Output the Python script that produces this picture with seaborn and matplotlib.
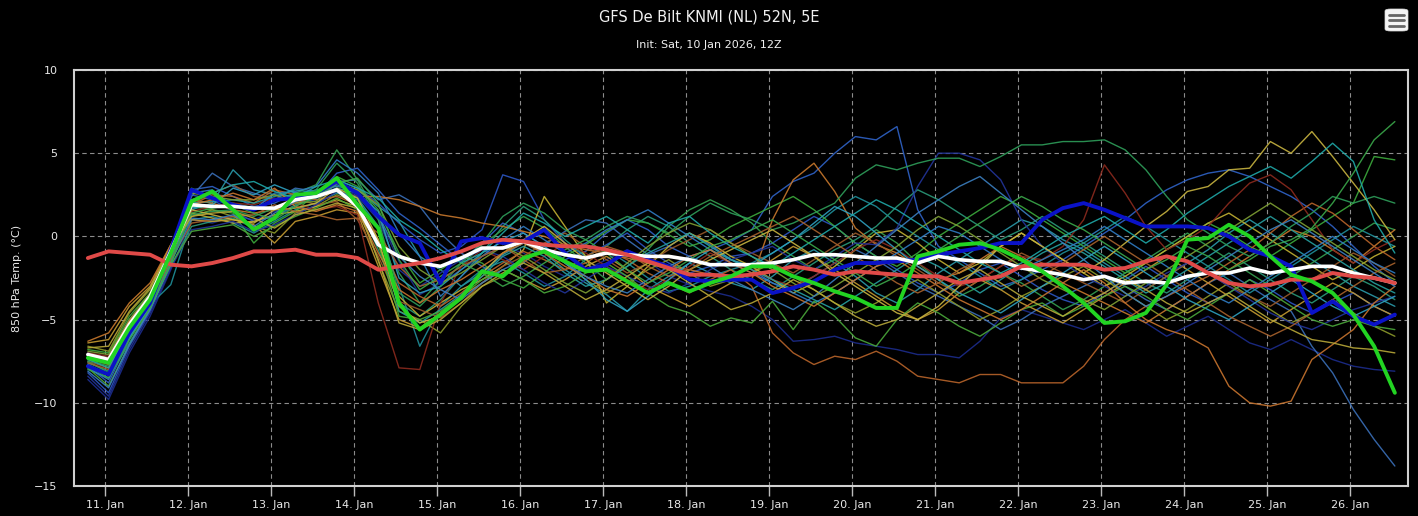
import pandas as pd
import matplotlib
matplotlib.use("Agg")
import matplotlib.pyplot as plt
import matplotlib.dates as mdates
from matplotlib.patches import FancyBboxPatch
import seaborn as sns

# 6-hourly steps from +6h to +384h, shown in local time (CET)
times = pd.date_range("2026-01-10 19:00", periods=64, freq="6h")

# ensemble members (thin lines)
mem01 = [-8.6, -9.8, -7.0, -4.8, -2.0, 1.0, 0.8, 1.2, 1.0, 1.5, 2.0, 2.2, 2.8, 2.5, 1.2, -1.5,
         -3.5, -2.8, -2.0, -1.2, -0.6, -1.0, -1.8, -2.4, -2.0, -1.4, -0.8, -1.5, -2.4, -2.9, -3.3, -3.6,
         -4.2, -5.0, -6.3, -6.2, -6.0, -6.4, -6.6, -6.8, -7.1, -7.1, -7.3, -6.3, -4.9, -4.4, -4.8, -5.2,
         -5.6, -5.0, -4.4, -5.2, -6.0, -5.4, -4.8, -5.6, -6.4, -6.8, -6.2, -6.8, -7.4, -7.8, -8.0, -8.1]
mem02 = [-8.2, -9.4, -6.6, -4.5, -1.5, 2.5, 2.2, 1.5, 0.9, 1.2, 1.8, 2.6, 3.4, 2.9, 2.0, 0.8,
         -0.2, -1.0, -0.6, 0.4, 3.7, 3.3, 1.0, -0.4, -1.2, -0.5, 0.2, -0.8, -1.6, -2.2, -1.8, -1.2,
         -1.0, -0.4, 0.4, 1.2, 0.6, -0.4, -1.2, -2.0, -2.8, -3.4, -2.8, -2.0, -1.6, -2.4, -3.2, -3.8,
         -4.2, -3.4, -2.6, -1.8, -2.6, -3.4, -4.0, -3.4, -2.6, -3.2, -4.0, -4.6, -4.0, -3.4, -4.2, -4.8]
mem03 = [-7.8, -8.8, -6.2, -4.2, -1.0, 2.8, 3.0, 2.4, 1.8, 2.0, 2.6, 2.4, 3.8, 4.1, 2.8, 1.4,
         0.5, -0.5, -1.5, -0.4, 0.8, 0.2, -0.6, -1.4, -0.9, 0.2, 1.0, 0.4, -0.6, -1.2, -0.8, -0.3,
         0.4, 2.4, 3.3, 3.8, 5.0, 6.0, 5.8, 6.6, 1.6, -0.6, -1.4, -2.2, -3.0, -2.6, -2.0, -1.4,
         -0.6, 0.2, 1.0, 2.0, 2.8, 3.4, 3.8, 4.0, 3.6, 3.0, 2.4, 1.6, 0.6, -0.6, -1.8, -2.8]
mem04 = [-7.0, -7.3, -5.0, -3.6, -0.8, 2.4, 3.8, 3.0, 2.6, 2.2, 2.9, 2.7, 3.3, 3.4, 2.2, 2.5,
         1.8, 0.2, -1.0, -1.8, -2.4, -1.6, -0.5, 0.3, 1.0, 0.8, -0.2, -1.1, -0.6, 0.2, -0.5, -1.4,
         -2.0, -2.8, -3.2, -2.4, -1.6, -0.8, -1.4, -2.2, -3.0, -3.6, -4.2, -4.8, -5.6, -5.0, -4.2, -3.6,
         -3.0, -2.4, -3.0, -3.8, -4.4, -3.6, -2.8, -2.2, -3.0, -3.8, -4.5, -6.6, -8.2, -10.4, -12.2, -13.8]
mem05 = [-7.2, -7.6, -5.5, -3.8, -1.6, 1.6, 2.0, 4.0, 2.8, 2.5, 2.4, 2.8, 3.0, 2.8, 1.8, 0.9,
         -1.2, -2.0, -3.0, -2.2, -1.1, -0.4, -1.0, -2.0, -2.8, -3.5, -4.5, -3.2, -2.4, -1.6, -2.2, -2.8,
         -3.2, -2.4, -1.4, -0.8, -1.6, -2.4, -3.4, -4.0, -3.2, -2.2, -1.4, -0.6, 0.2, 1.0, 0.6, -0.2,
         -0.8, -1.6, -2.4, -3.2, -2.4, -1.6, -0.8, 0.2, 1.0, 0.2, -0.6, -1.4, -2.2, -3.0, -3.6, -4.2]
mem06 = [-7.6, -8.1, -5.9, -4.1, -2.9, 1.0, 1.2, 0.8, 0.2, 0.9, 1.6, 2.0, 2.6, 2.2, 0.4, -3.0,
         -6.6, -4.2, -3.0, -2.0, -1.5, -2.2, -3.0, -2.4, -1.4, -0.8, -1.6, -2.5, -3.3, -3.0, -2.4, -2.0,
         -1.6, -1.0, -0.2, 0.6, 1.6, 2.4, 1.8, 0.8, 0.0, -0.8, -1.6, -2.4, -3.2, -2.6, -1.8, -1.0,
         -0.4, 0.4, 1.2, 0.6, -0.2, -1.0, -1.8, -2.6, -3.4, -2.6, -1.8, -1.0, -0.2, 0.6, 0.0, -0.6]
mem07 = [-8.0, -8.5, -6.4, -4.4, -1.8, 0.6, 0.9, 1.1, 0.5, 1.2, 1.9, 2.3, 2.9, 2.0, -0.8, -4.0,
         -4.8, -3.8, -2.4, -1.0, 0.6, 1.8, 1.0, -0.2, -1.2, -0.6, 0.4, 1.2, 0.6, -0.4, -1.2, -2.0,
         -2.6, -3.2, -2.4, -1.6, -0.8, -0.2, 0.6, 1.8, 2.8, 2.2, 1.4, 0.6, -0.2, 0.4, 1.2, 0.4,
         -0.4, -1.2, -2.0, -2.8, -3.4, -2.6, -1.8, -1.0, -1.8, -2.6, -3.4, -4.0, -3.2, -2.4, -3.0, -3.8]
mem08 = [-7.4, -7.8, -5.6, -3.9, -1.3, 2.9, 2.3, 2.0, 1.7, 2.2, 2.6, 3.1, 5.2, 3.4, 1.2, -2.2,
         -4.0, -2.6, -1.8, -0.5, 0.4, 1.2, 0.5, -0.6, -1.6, -2.6, -1.8, -0.8, 0.6, 1.6, 2.2, 1.6,
         0.8, -0.4, -1.2, -2.0, -1.4, -0.6, 0.4, -0.4, -1.6, -2.6, -3.6, -3.0, -2.2, -2.8, -3.6, -4.4,
         -3.8, -3.0, -2.2, -1.4, -0.6, 0.2, -0.6, -1.4, -2.2, -3.0, -2.4, -1.6, -0.8, 0.0, 0.8, 0.4]
mem09 = [-6.8, -7.0, -4.8, -3.4, -1.0, 1.8, 1.6, 1.4, -0.4, 0.8, 1.5, 2.6, 3.6, 3.0, 1.6, -1.0,
         -2.8, -2.0, -1.2, -1.6, -2.6, -3.1, -2.2, -1.2, -0.5, 0.3, 1.0, 0.8, 0.1, -0.6, -0.2, 0.6,
         1.2, 1.8, 2.4, 1.6, 0.6, -0.4, -1.2, -1.8, -1.0, 0.0, 0.8, 1.6, 2.4, 1.8, 1.0, 0.2,
         -0.6, -1.4, -2.2, -1.6, -0.8, 0.0, 0.8, 0.2, -0.6, -1.2, -0.4, 0.4, 1.2, 2.0, 4.8, 4.6]
mem10 = [-6.6, -6.9, -4.6, -3.2, -0.6, 1.2, 1.6, 1.2, 0.6, 0.2, 1.4, 1.8, 2.5, 2.0, -1.5, -4.5,
         -5.0, -5.8, -4.2, -3.0, -2.4, -1.5, -0.8, -1.6, -2.6, -3.4, -2.8, -2.0, -1.4, -2.2, -3.0, -2.6,
         -2.2, -1.6, -2.4, -3.2, -4.0, -4.6, -4.0, -3.2, -2.6, -3.4, -4.2, -5.0, -4.4, -3.6, -3.0, -2.4,
         -1.8, -2.6, -3.4, -4.2, -5.0, -4.4, -3.6, -2.8, -3.6, -4.4, -5.2, -4.6, -3.8, -4.6, -5.4, -6.0]
mem11 = [-7.1, -7.4, -5.2, -3.5, -1.1, 1.4, 1.1, 0.8, 0.9, 1.3, 1.5, 1.8, 2.2, 1.8, -0.5, -3.6,
         -4.8, -4.0, -3.2, -2.6, -1.8, -0.8, 2.4, 0.6, -1.2, -4.0, -3.0, -1.8, -0.6, 0.2, -0.4, -1.2,
         -1.8, -2.6, -3.4, -2.8, -1.8, -0.8, 0.2, 0.4, -0.4, -1.4, -2.2, -1.6, -0.6, 0.2, -0.6, -1.4,
         -2.2, -3.0, -2.4, -1.6, -0.8, 0.0, 0.8, 1.4, 0.6, -0.2, -1.0, -1.8, -2.6, -2.0, -1.2, -0.6]
mem12 = [-6.4, -6.2, -4.2, -3.0, -0.5, 1.0, 0.9, 1.0, 0.7, -0.4, 0.9, 1.2, 1.6, 1.4, -1.8, -5.0,
         -5.5, -4.6, -3.6, -2.8, -2.0, -2.6, -3.2, -2.6, -1.8, -1.2, -2.0, -3.0, -3.6, -4.2, -3.5, -2.8,
         -2.2, -1.4, -0.6, -1.2, -2.0, -2.8, -3.6, -4.4, -5.0, -4.4, -3.4, -2.6, -3.2, -4.0, -4.6, -5.2,
         -4.4, -3.6, -2.8, -2.0, -1.2, -2.0, -2.8, -3.6, -4.4, -5.2, -4.4, -3.6, -2.8, -3.4, -4.2, -4.8]
mem13 = [-6.3, -5.8, -4.0, -2.8, -0.5, 2.2, 2.0, 1.6, 1.4, 1.6, 2.0, 2.4, 2.7, 2.4, 2.4, 2.2,
         1.8, 1.3, 1.1, 0.8, 0.6, 0.3, 0.0, -0.5, -0.8, -1.0, -1.3, -1.6, -1.8, -2.0, -2.3, -2.5,
         -2.6, 1.0, 3.4, 4.4, 2.7, 0.5, -0.5, -1.0, -1.8, -2.6, -2.2, -1.4, -0.6, -1.2, -2.0, -2.8,
         -3.4, -4.0, -4.6, -5.2, -4.4, -3.6, -2.8, -2.0, -1.2, -0.4, 0.4, 0.0, -0.8, -1.6, -0.6, 0.4]
mem14 = [-7.3, -7.7, -5.4, -3.7, -1.2, 1.9, 2.5, 2.4, 2.0, 2.8, 2.5, 2.2, 2.4, 1.9, -0.2, -2.8,
         -3.6, -4.2, -3.4, -2.4, -1.6, -0.9, -1.4, -2.0, -1.6, -0.8, -1.4, -2.2, -2.8, -3.4, -2.6, -2.0,
         -3.0, -5.8, -7.0, -7.7, -7.2, -7.4, -6.9, -7.5, -8.4, -8.6, -8.8, -8.3, -8.3, -8.8, -8.8, -8.8,
         -7.8, -6.2, -5.0, -4.2, -3.6, -3.0, -2.4, -1.6, -0.8, 0.2, 1.2, 2.0, 1.4, 0.4, -0.6, -1.4]
mem15 = [-7.5, -7.9, -5.7, -3.9, -1.4, 2.0, 2.6, 3.1, 2.4, 2.2, 2.3, 1.9, 2.1, 1.0, -1.2, -3.9,
         -4.4, -4.9, -4.0, -2.8, -1.8, -1.2, -0.4, 0.2, -0.6, -1.4, -2.2, -1.6, -0.8, -0.2, 0.4, -0.4,
         -1.0, -1.6, -2.2, -1.4, -0.6, 0.2, -0.4, -1.2, -2.0, -2.8, -3.4, -2.6, -1.8, -1.0, -1.6, -2.2,
         -2.8, -3.4, -4.0, -3.2, -2.4, -1.6, -2.2, -3.0, -3.6, -4.2, -3.4, -2.6, -1.8, -1.0, -1.6, -2.4]
mem16 = [-7.0, -7.2, -5.1, -3.5, -0.9, 1.5, 1.8, 2.0, 1.9, 2.3, 2.0, 1.6, 1.8, 1.3, -4.0, -7.9,
         -8.0, -4.0, -1.8, -0.8, -1.4, -2.0, -1.2, -0.4, -1.0, -1.8, -2.6, -3.2, -2.6, -1.8, -1.0, -1.6,
         -2.0, -2.6, -3.0, -2.4, -1.6, -0.8, -0.2, -0.8, -1.6, -2.4, -3.0, -2.6, -1.8, -1.2, -1.4, -0.6,
         1.0, 4.3, 2.6, 0.6, -0.8, -0.2, 0.6, 2.0, 3.2, 3.7, 2.8, 1.0, -0.8, -1.6, -0.8, -0.2]
mem17 = [-8.4, -9.6, -6.8, -4.6, -1.9, 0.4, 0.6, 0.9, 0.3, 0.7, 1.3, 1.9, 2.7, 2.4, 1.0, -2.0,
         -3.0, -2.2, -1.4, -0.8, -1.2, -2.0, -2.8, -3.4, -2.6, -1.8, -2.4, -3.0, -3.4, -2.8, -2.0, -1.4,
         -1.0, -0.6, -1.4, -2.0, -1.2, -0.4, -0.5, 0.5, 3.0, 5.0, 5.0, 4.6, 3.4, 1.0, -0.6, -1.6,
         -2.4, -3.0, -3.6, -3.0, -2.2, -1.6, -2.2, -3.0, -3.8, -4.6, -5.2, -5.6, -5.0, -4.4, -4.0, -3.6]
mem18 = [-7.9, -8.6, -6.0, -4.1, -1.3, 2.6, 2.8, 1.8, 1.6, 2.6, 2.7, 3.0, 4.6, 3.8, 2.6, 0.2,
         -1.2, -3.6, -2.4, -1.2, -0.2, 0.6, -0.2, -1.0, -0.4, 0.4, 1.0, 1.6, 0.8, 0.0, -0.8, -1.6,
         -2.2, -2.8, -3.4, -4.0, -3.4, -2.6, -1.8, -1.0, -0.2, 0.6, 0.2, -0.6, -1.4, -2.0, -1.4, -0.8,
         -0.2, 0.6, -0.2, -1.0, -1.8, -2.6, -3.4, -4.0, -3.2, -2.4, -1.6, -0.8, 0.0, -0.8, -1.6, -2.2]
mem19 = [-7.7, -8.3, -6.1, -4.2, -1.5, 1.7, 1.9, 2.9, 2.5, 3.1, 2.6, 2.5, 2.9, 2.6, 1.5, -2.5,
         -3.4, -3.0, -2.0, -1.0, -0.3, 0.2, -0.6, -1.6, -2.6, -3.8, -4.5, -3.6, -2.6, -1.6, -0.8, -1.4,
         -1.8, -1.0, -0.2, 0.8, 1.8, 1.2, 0.2, -0.8, -1.8, -2.6, -3.4, -4.0, -4.6, -3.8, -3.0, -2.2,
         -1.4, -0.6, -1.4, -2.2, -3.0, -3.8, -4.4, -5.0, -4.2, -3.4, -2.6, -3.4, -4.2, -4.8, -4.2, -3.6]
mem20 = [-7.3, -7.6, -5.3, -3.8, -1.1, 2.0, 2.1, 2.2, 2.0, 2.4, 2.8, 2.6, 2.7, 2.3, 0.6, -4.5,
         -5.2, -4.4, -3.5, -2.4, -1.2, -0.6, -1.2, -2.2, -3.0, -2.6, -1.8, -1.0, -0.4, 0.2, -0.6, -1.4,
         -2.0, -2.6, -3.2, -3.8, -4.4, -3.6, -2.8, -2.0, -1.2, -1.8, -2.6, -3.4, -2.6, -1.8, -1.0, -0.4,
         -1.0, -1.8, -2.6, -3.4, -2.8, -2.0, -1.2, -0.4, 0.4, 1.2, 0.4, -0.4, -1.2, -2.0, -2.8, -3.4]
mem21 = [-7.5, -8.2, -5.8, -4.0, -1.4, 1.3, 1.5, 1.6, 1.2, 1.7, 2.2, 2.8, 4.4, 3.2, 1.0, -3.4,
         -4.2, -3.0, -1.6, -0.4, 1.2, 2.0, 1.4, 0.4, -0.2, 0.6, 1.2, 0.8, 0.2, 1.2, 2.0, 1.4,
         1.0, 0.4, 0.8, 1.4, 2.0, 3.5, 4.3, 4.0, 4.4, 4.7, 4.7, 4.2, 4.8, 5.5, 5.5, 5.7,
         5.7, 5.8, 5.2, 4.0, 2.4, 1.0, 0.2, -0.6, -1.2, -0.4, 0.6, 1.4, 2.4, 2.0, 2.4, 2.0]
mem22 = [-7.9, -9.0, -6.5, -4.3, -1.7, 0.3, 0.5, 0.7, 0.0, 0.6, 1.2, 1.7, 2.3, 1.6, -0.4, -4.8,
         -5.0, -4.5, -3.6, -2.6, -2.0, -2.6, -3.4, -3.0, -2.2, -1.6, -2.4, -3.4, -4.2, -4.6, -5.4, -4.9,
         -5.2, -3.9, -5.6, -3.9, -4.8, -6.1, -6.6, -5.0, -4.0, -4.6, -5.4, -6.0, -5.2, -4.4, -4.0, -4.8,
         -4.2, -3.6, -3.0, -3.6, -4.4, -5.0, -4.2, -3.4, -2.6, -3.4, -4.2, -5.0, -5.4, -5.0, -5.4, -5.6]
mem23 = [-6.9, -7.1, -5.0, -3.4, -0.8, 2.6, 2.4, 2.2, 2.2, 2.5, 2.0, 2.1, 3.2, 2.8, 1.9, -0.6,
         -2.0, -2.8, -2.2, -1.4, -0.6, -1.2, -2.0, -2.8, -3.4, -2.6, -1.6, -0.6, 0.2, 0.8, 0.4, -0.4,
         -1.2, -2.0, -2.8, -3.6, -3.0, -2.2, -1.4, -0.6, 0.4, 1.2, 0.6, -0.2, -1.0, -1.8, -2.6, -3.2,
         -3.8, -4.4, -3.6, -2.8, -2.0, -1.2, -0.4, 0.4, 1.2, 2.0, 1.2, 0.4, -0.4, -1.2, -2.0, -2.6]
mem24 = [-7.2, -7.5, -5.2, -3.6, -1.0, 1.6, 1.3, 1.0, 0.8, 1.6, 1.7, 2.0, 2.9, 2.3, -0.2, -4.2,
         -5.2, -4.8, -3.6, -2.2, -1.0, -0.2, 0.6, -0.4, -1.4, -2.2, -3.0, -3.8, -3.0, -2.0, -1.4, -0.8,
         -0.2, 0.4, -0.4, -1.2, -2.2, -3.0, -3.8, -4.6, -5.0, -4.2, -3.0, -1.8, -0.6, 0.2, -0.6, -1.4,
         -2.2, -1.4, -0.4, 0.6, 1.5, 2.7, 3.0, 4.0, 4.1, 5.7, 5.0, 6.3, 4.8, 3.2, 1.6, -0.2]
mem25 = [-7.1, -7.3, -5.1, -3.6, -1.0, 1.9, 2.2, 2.6, 2.2, 2.9, 1.8, 1.5, 1.9, 1.5, -1.0, -3.2,
         -4.0, -3.2, -2.6, -1.8, -1.0, -0.4, -1.0, -1.8, -2.4, -3.2, -3.6, -2.8, -2.0, -1.2, -0.8, -1.6,
         -2.2, -3.0, -3.6, -4.2, -3.4, -2.6, -1.8, -1.4, -2.2, -3.0, -3.8, -4.4, -5.0, -4.4, -3.6, -2.8,
         -2.0, -2.8, -4.0, -5.0, -5.6, -6.0, -6.7, -9.0, -10.0, -10.2, -9.9, -7.4, -6.5, -5.6, -4.0, -3.0]
mem26 = [-7.6, -8.0, -5.8, -4.0, -1.4, 0.8, 1.0, 1.2, 1.3, 1.9, 1.5, 1.3, 1.0, 1.1, 0.2, -1.8,
         -3.0, -2.6, -1.8, -1.2, -0.6, -1.4, -2.2, -2.0, -1.2, -0.6, -1.0, -1.8, -2.4, -2.0, -1.2, -0.6,
         0.0, 0.6, 1.2, 0.4, -0.4, -1.2, -2.0, -2.8, -3.4, -2.8, -2.0, -1.4, -2.2, -3.0, -2.4, -1.6,
         -0.8, 0.0, -0.8, -1.6, -2.4, -3.2, -4.0, -4.8, -5.4, -6.0, -5.4, -4.6, -3.8, -3.0, -2.2, -1.6]
mem27 = [-8.1, -9.1, -6.5, -4.4, -1.6, 1.1, 1.0, 1.3, 0.6, 1.4, 2.1, 2.4, 3.1, 2.7, 1.3, -1.2,
         -2.4, -3.2, -3.8, -2.8, -2.0, -1.4, -0.8, -1.6, -2.4, -3.0, -3.4, -2.6, -1.8, -1.2, -1.8, -2.6,
         -3.2, -3.8, -4.4, -3.6, -2.6, -1.6, -0.6, 0.4, 1.4, 2.2, 3.0, 3.6, 2.6, 1.6, 0.6, -0.4,
         -1.4, -2.4, -3.4, -4.2, -3.6, -2.8, -2.0, -1.2, -0.4, 0.4, 1.0, 0.2, -0.6, -1.4, -2.2, -3.0]
mem28 = [-7.4, -7.9, -5.6, -3.9, -1.2, 2.2, 2.6, 3.1, 3.3, 2.7, 2.3, 3.0, 3.4, 2.9, 2.3, 1.0,
         0.2, -0.8, -1.6, -1.0, 0.2, 1.4, 0.8, 0.0, 0.6, 1.2, 0.4, -0.4, 0.8, 1.2, 0.2, -0.6,
         -1.2, -1.8, -1.0, -0.2, 0.6, 1.4, 2.2, 1.6, 0.8, 0.0, -0.8, -1.6, -2.2, -1.6, -0.8, 0.0,
         0.6, 1.2, 0.4, -0.4, 0.4, 1.4, 2.2, 3.0, 3.6, 4.2, 3.5, 4.5, 5.6, 4.5, 1.0, -1.0]
mem29 = [-7.8, -8.5, -6.2, -4.3, -1.6, 1.4, 1.7, 1.9, 1.4, 1.0, 1.8, 2.4, 3.2, 3.5, 2.0, -1.4,
         -3.2, -2.4, -1.6, -2.2, -3.0, -2.4, -1.6, -0.8, -0.2, -1.0, -2.0, -2.8, -2.2, -1.4, -0.6, -0.2,
         0.4, 1.0, 0.2, -0.6, -1.4, -2.2, -3.0, -2.4, -1.6, -0.8, 0.0, 0.8, 1.6, 2.4, 1.8, 1.0,
         0.4, -0.4, -1.2, -2.0, -1.4, -0.6, -1.2, -2.0, -1.4, -0.6, -0.2, 0.5, 2.0, 3.8, 5.8, 6.9]
mem30 = [-6.7, -6.6, -4.5, -3.1, -0.7, 1.2, 1.4, 1.5, 1.1, 0.5, 1.3, 1.6, 2.0, 1.7, -1.4, -5.2,
         -5.6, -5.0, -4.0, -3.0, -2.2, -1.6, -2.2, -3.0, -3.8, -3.2, -2.4, -1.6, -2.0, -2.8, -3.6, -4.4,
         -4.0, -3.4, -2.6, -3.2, -4.0, -4.8, -5.4, -5.0, -4.2, -3.4, -2.6, -2.0, -2.8, -3.6, -4.2, -4.8,
         -4.0, -3.4, -2.6, -3.2, -4.0, -4.6, -4.0, -3.4, -4.2, -5.0, -5.6, -6.2, -6.4, -6.7, -6.8, -7.0]

# operational run (green), control (blue), ensemble mean (white), climate (red)
green_run = [-7.3, -7.6, -5.5, -3.8, -1.0, 2.1, 2.7, 1.6, 0.4, 1.1, 2.5, 2.6, 3.5, 1.9, 0.5, -4.0,
             -5.6, -4.7, -3.7, -2.1, -2.4, -1.3, -0.9, -1.5, -2.1, -2.0, -2.7, -3.4, -2.8, -3.3, -2.8, -2.4,
             -1.8, -1.8, -2.4, -2.8, -3.3, -3.7, -4.3, -4.3, -1.2, -0.9, -0.5, -0.4, -0.8, -1.4, -2.1, -3.0,
             -4.0, -5.2, -5.1, -4.6, -2.9, -0.2, -0.1, 0.7, 0.0, -1.2, -2.3, -2.7, -3.4, -4.7, -6.6, -9.4]
blue_run = [-7.8, -8.3, -5.8, -4.0, -0.8, 2.8, 2.3, 1.9, 1.6, 2.2, 2.3, 2.6, 3.3, 2.6, 1.2, 0.1,
            -0.4, -2.8, -0.3, -0.1, -0.4, -0.3, 0.4, -1.0, -2.0, -1.7, -0.9, -1.4, -1.8, -2.6, -2.7, -2.6,
            -2.6, -3.4, -3.1, -2.7, -2.0, -1.6, -1.6, -1.5, -1.4, -1.1, -0.9, -0.7, -0.4, -0.4, 1.0, 1.7,
            2.0, 1.6, 1.1, 0.6, 0.6, 0.6, 0.5, 0.0, -0.8, -1.2, -1.8, -4.6, -3.9, -4.8, -5.3, -4.7]
ens_mean = [-7.1, -7.4, -5.3, -3.6, -0.9, 1.9, 1.8, 1.8, 1.7, 1.7, 2.2, 2.4, 2.8, 1.8, -0.5, -1.2,
            -1.6, -1.8, -1.3, -0.7, -0.7, -0.3, -0.8, -1.1, -1.3, -1.0, -1.1, -1.2, -1.2, -1.4, -1.7, -1.7,
            -1.7, -1.6, -1.4, -1.1, -1.1, -1.2, -1.3, -1.3, -1.6, -1.2, -1.4, -1.5, -1.5, -1.9, -2.1, -2.3,
            -2.6, -2.4, -2.8, -2.7, -2.8, -2.4, -2.2, -2.2, -1.9, -2.2, -2.0, -1.8, -1.8, -2.2, -2.5, -2.8]
clim = [-1.3, -0.9, -1.0, -1.1, -1.7, -1.8, -1.6, -1.3, -0.9, -0.9, -0.8, -1.1, -1.1, -1.3, -2.0, -1.8,
        -1.6, -1.3, -0.9, -0.4, -0.2, -0.3, -0.5, -0.6, -0.6, -0.8, -1.1, -1.5, -1.9, -2.3, -2.3, -2.4,
        -2.3, -2.1, -1.8, -2.0, -2.3, -2.1, -2.2, -2.3, -2.4, -2.4, -2.8, -2.6, -2.4, -1.8, -1.7, -1.7,
        -1.7, -2.0, -1.9, -1.5, -1.2, -1.5, -2.2, -2.8, -3.0, -2.9, -2.6, -2.6, -2.2, -2.4, -2.5, -2.8]

members = [mem01, mem02, mem03, mem04, mem05, mem06, mem07, mem08, mem09, mem10,
           mem11, mem12, mem13, mem14, mem15, mem16, mem17, mem18, mem19, mem20,
           mem21, mem22, mem23, mem24, mem25, mem26, mem27, mem28, mem29, mem30]
member_colors = ["#1c2c8c", "#2c56c4", "#2f63c8", "#3a6fb8", "#2a9aaa", "#1f8f9a",
                 "#2a9a7a", "#34a050", "#3caa3c", "#8c9a2a", "#c2b032", "#c49a30",
                 "#c8782c", "#b8642a", "#9a5a2a", "#8c2a1e", "#22349a", "#2f7cc4",
                 "#2ea0c0", "#26a0a0", "#2e9e5a", "#4aa83a", "#7fa034", "#c8b440",
                 "#c8742e", "#a8622c", "#3b7fc0", "#1fa8a8", "#3aa84a", "#b8a838"]

rows = []
for k, vals in enumerate(members):
    for t, v in zip(times, vals):
        rows.append((t, v, f"m{k + 1:02d}"))
df = pd.DataFrame(rows, columns=["time", "temp", "member"])

sns.set_theme(style="dark", rc={"axes.facecolor": "black", "figure.facecolor": "black"})
plt.rcParams["font.family"] = ["DejaVu Sans"]

fig = plt.figure(figsize=(14.18, 5.16), dpi=100, facecolor="black")
ax = fig.add_axes([74 / 1418, 30 / 516, 1334 / 1418, 416 / 516])
ax.set_facecolor("black")

sns.lineplot(data=df, x="time", y="temp", hue="member", palette=member_colors,
             estimator=None, linewidth=1.0, alpha=0.9, legend=False, ax=ax)

# thick lines on top
sns.lineplot(x=times, y=blue_run, color="#0a12c8", linewidth=2.8, ax=ax)
sns.lineplot(x=times, y=ens_mean, color="white", linewidth=2.6, ax=ax)
sns.lineplot(x=times, y=clim, color="#e04a48", linewidth=2.8, ax=ax)
sns.lineplot(x=times, y=green_run, color="#22d422", linewidth=2.8, ax=ax)

ax.set_xlim(times[0] - pd.Timedelta(hours=4), times[-1] + pd.Timedelta(hours=3.8))
ax.set_ylim(-15, 10)
ax.set_yticks([-15, -10, -5, 0, 5, 10])
ax.xaxis.set_major_locator(mdates.DayLocator())
ax.xaxis.set_major_formatter(mdates.DateFormatter("%d. %b"))

ax.grid(True, color="#8c8c8c", linestyle=(0, (4, 3)), linewidth=0.8)
for sp in ax.spines.values():
    sp.set_visible(True)
    sp.set_color("#d0d0d0")
    sp.set_linewidth(1.5)
ax.tick_params(axis="x", colors="#e8e8e8", labelsize=8, length=7, width=1, pad=3, bottom=True)
ax.tick_params(axis="x", which="major", color="#bbbbbb")
ax.tick_params(axis="y", colors="#e8e8e8", labelsize=8, length=0, pad=12)
ax.set_xlabel("")
ax.set_ylabel("850 hPa Temp. (°C)", color="#e8e8e8", fontsize=8)
ax.yaxis.set_label_coords(-0.039, 0.5)

fig.text(0.5, 1 - 17 / 516, "GFS De Bilt KNMI (NL) 52N, 5E", ha="center", va="center",
         color="#f0f0f0", fontsize=10.5)
fig.text(0.5, 1 - 45 / 516, "Init: Sat, 10 Jan 2026, 12Z", ha="center", va="center",
         color="#f0f0f0", fontsize=8)

# menu button in the top right corner
btn = FancyBboxPatch((1385 / 1418, 1 - 31 / 516), 23 / 1418, 22 / 516,
                     boxstyle="round,pad=0,rounding_size=0.004", transform=fig.transFigure,
                     facecolor="#f4f4f4", edgecolor="#dddddd", linewidth=0.5)
fig.patches.append(btn)
for yy in [15, 20, 25.5]:
    fig.lines.append(plt.Line2D([1389 / 1418, 1404 / 1418], [1 - yy / 516, 1 - yy / 516],
                                transform=fig.transFigure, color="#666666", linewidth=2))

fig.savefig("out.png", dpi=100, facecolor="black")
